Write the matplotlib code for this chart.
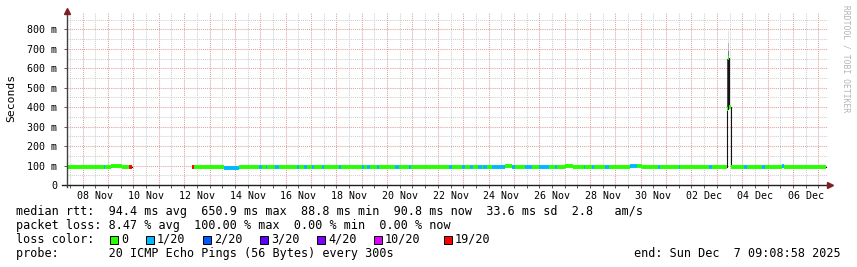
import datetime as dt
import matplotlib
matplotlib.use("Agg")
import matplotlib.pyplot as plt
from matplotlib.patches import Rectangle

W, H = 857, 267
MONO = "DejaVu Sans Mono"

END = dt.datetime(2025, 12, 7, 9, 8, 58)
START = END - dt.timedelta(days=30)

# median rtt, run-length: segment start (hours after START), median (ms), lost pings of 20
seg_start_h = [
    0.0, 17.0, 21.4, 34.6, 35.6, 41.2, 52.3, 58.7, 61.1,
    118.5, 120.1, 148.5, 162.7, 167.4, 173.4, 181.6, 184.8, 187.9, 189.5,
    197.1, 200.6, 217.9, 219.8, 224.2, 227.3, 232.1, 233.7, 241.5, 243.1,
    257.6, 259.5, 279.4, 281.0, 284.1, 287.0, 293.5, 295.2, 310.6, 314.1,
    323.5, 325.0, 361.0, 364.2, 373.7, 376.8, 381.5, 384.4, 389.1, 392.6,
    393.8, 397.3, 402.1, 414.6, 421.0, 424.1, 433.6, 439.9, 446.1, 455.6,
    461.9, 463.5, 471.4, 479.0, 488.7, 490.3, 496.7, 498.2, 509.2, 512.4,
    532.9, 539.2, 544.0, 559.6, 561.2, 578.6, 580.2, 607.0, 610.2,
    624.0, 625.0, 626.8, 627.8, 640.1, 643.3, 657.5, 660.6, 676.4, 677.9,
]
seg_rtt_ms = [
    94, 90, 94, 94, 94, 98, 95, 95, float("nan"),
    92, 90, 89, 95, 93, 90, 92, 93, 93, 93,
    93, 94, 94, 94, 94, 94, 94, 94, 94, 94,
    94, 94, 94, 94, 94, 94, 94, 93, 91, 91,
    91, 92, 94, 93, 91, 91, 91, 91, 90, 90,
    90, 90, 90, 96, 95, 93, 92, 92, 92, 93,
    93, 93, 97, 93, 93, 93, 93, 93, 93, 93,
    100, 96, 90, 90, 91, 92, 93, 93, 93,
    390, 650.9, 400, 91, 91, 92, 93, 93, 97, 94,
]
seg_loss = [
    0, 0, 0, 1, 0, 0, 0, 19, 20,
    19, 0, 1, 0, 0, 0, 1, 0, 1, 0,
    1, 0, 1, 0, 1, 0, 1, 0, 1, 0,
    1, 0, 1, 0, 1, 0, 1, 0, 1, 0,
    1, 0, 1, 0, 1, 0, 1, 0, 1, 0,
    1, 0, 1, 0, 1, 0, 1, 0, 1, 0,
    1, 0, 0, 0, 1, 0, 1, 0, 1, 0,
    1, 0, 0, 1, 0, 1, 0, 1, 0,
    0, 0, 0, 0, 1, 0, 1, 0, 1, 0,
]
series_end_h = 718.5

# smoke (ping spread) around the Dec 3 spike
smoke_start_h = [624.0, 625.0, 625.0, 625.0, 626.8]
smoke_end_h = [625.0, 626.8, 626.8, 626.8, 627.8]
smoke_lo_ms = [390, 650, 650, 650, 400]
smoke_hi_ms = [650, 790, 730, 690, 480]
smoke_gray = ["#505050", "#e4e4e4", "#b8b8b8", "#7a7a7a", "#e6e6e6"]

loss_levels = [0, 1, 2, 3, 4, 10, 19]
loss_labels = ["0", "1/20", "2/20", "3/20", "4/20", "10/20", "19/20"]
loss_colors = ["#26ff00", "#00b8ff", "#0059ff", "#5e00ff", "#7e00ff", "#dd00ff", "#ff0000"]

legend_rtt = "median rtt:  94.4 ms avg  650.9 ms max  88.8 ms min  90.8 ms now  33.6 ms sd  2.8   am/s"
legend_loss = "packet loss: 8.47 % avg  100.00 % max  0.00 % min  0.00 % now"
legend_probe = "probe:       20 ICMP Echo Pings (56 Bytes) every 300s"
legend_end = "end: Sun Dec  7 09:08:58 2025"


def loss_color(n):
    col = loss_colors[0]
    for lvl, c in zip(loss_levels, loss_colors):
        if n >= lvl:
            col = c
    return col


def fx(px):
    return px / W


def fy(py):
    return 1 - py / H


fig = plt.figure(figsize=(W / 100, H / 100), dpi=100)
ax = fig.add_axes([fx(67), fy(185), 761 / W, 172 / H])
ax.set_xlim(0, 720)
ax.set_ylim(0, 884)

# ---- grid: midnight (red) / noon (gray), 100 m (red) / 50 m (gray)
first_day = dt.datetime(START.year, START.month, START.day)
midnights, noons, noon_labels = [], [], []
d = first_day
while d <= END:
    for t, lst in ((d, midnights), (d + dt.timedelta(hours=12), noons)):
        h = (t - START).total_seconds() / 3600
        if 0 <= h <= 720:
            lst.append(h)
            if lst is noons:
                noon_labels.append(t.strftime("%d %b") if t.day % 2 == 0 else "")
    d += dt.timedelta(days=1)

ax.set_xticks(midnights)
ax.set_xticklabels([])
ax.set_xticks(noons, minor=True)
ax.set_xticklabels(noon_labels, minor=True, fontsize=7.2, family=MONO)
ax.set_yticks(range(0, 900, 100))
ax.set_yticklabels(["0"] + [f"{v} m" for v in range(100, 900, 100)], fontsize=7.2, family=MONO)
ax.set_yticks(range(50, 900, 100), minor=True)

ax.grid(which="major", color="#e2a0a0", linestyle=(0, (1, 1)), lw=0.75)
ax.grid(which="minor", color="#cfcfcf", linestyle=(0, (1, 1)), lw=0.75)
ax.set_axisbelow(True)
ax.tick_params(axis="x", which="both", length=2, width=0.6, color="#404040", pad=2)
ax.tick_params(axis="y", which="major", length=2, width=0.6, color="#404040", pad=5)
ax.tick_params(axis="y", which="minor", length=0)
for s in ax.spines.values():
    s.set_visible(False)

# ---- smoke
for t0, t1, lo, hi, g in zip(smoke_start_h, smoke_end_h, smoke_lo_ms, smoke_hi_ms, smoke_gray):
    ax.fill_between([t0, t1], lo, hi, color=g, lw=0, zorder=2)

# ---- median: thin dark step line, then loss-coloured thick segments
seg_end_h = seg_start_h[1:] + [series_end_h]
ax.step(seg_start_h + [series_end_h], seg_rtt_ms + [seg_rtt_ms[-1]], where="post",
        color="#151515", lw=0.8, zorder=3)
ax.hlines(seg_rtt_ms, seg_start_h, seg_end_h,
          colors=[loss_color(n) for n in seg_loss], lw=2.8, zorder=4)

# ---- axes with arrows
ax.plot([-0.006, 1.0], [0, 0], transform=ax.transAxes, color="#202020", lw=1.0, clip_on=False, zorder=5)
ax.plot([0, 0], [-0.012, 1.0], transform=ax.transAxes, color="#404040", lw=1.0, clip_on=False, zorder=5)
ax.plot([1.002], [0], transform=ax.transAxes, marker=">", ms=4.5, color="#7f1f1f", clip_on=False, zorder=6)
ax.plot([0], [1.012], transform=ax.transAxes, marker="^", ms=4.5, color="#7f1f1f", clip_on=False, zorder=6)

# ---- labels and legend
fig.text(fx(11), fy(98), "Seconds", rotation=90, ha="center", va="center", fontsize=8.2, family=MONO)
fig.text(fx(846), fy(59), "RRDTOOL / TOBI OETIKER", rotation=-90, ha="center", va="center",
         fontsize=5.8, family=MONO, color="#b4b4b4")

LEG_FS = 8.45
fig.text(fx(16), fy(211), legend_rtt, ha="left", va="center", fontsize=LEG_FS, family=MONO)
fig.text(fx(16), fy(225), legend_loss, ha="left", va="center", fontsize=LEG_FS, family=MONO)
fig.text(fx(16), fy(253.5), legend_probe, ha="left", va="center", fontsize=LEG_FS, family=MONO)
fig.text(fx(841), fy(253.5), legend_end, ha="right", va="center", fontsize=LEG_FS, family=MONO)

fig.text(fx(16), fy(239.5), "loss color:", ha="left", va="center", fontsize=LEG_FS, family=MONO)
box_x = [110, 146, 203, 260, 317, 374, 444]
for bx, lab, c in zip(box_x, loss_labels, loss_colors):
    fig.patches.append(Rectangle((fx(bx), fy(243.5)), 8 / W, 8 / H, transform=fig.transFigure,
                                 facecolor=c, edgecolor="black", lw=0.7))
    fig.text(fx(bx + 11), fy(239.5), lab, ha="left", va="center", fontsize=LEG_FS, family=MONO)

fig.savefig("out.png", dpi=100)
